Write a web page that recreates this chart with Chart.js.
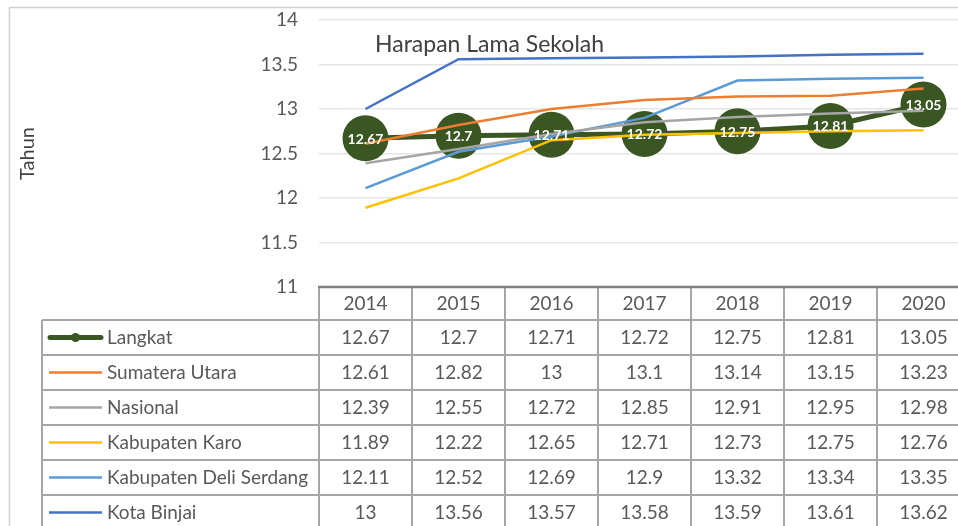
<!DOCTYPE html>
<html>
<head>
<meta charset="utf-8">
<script src="https://cdn.jsdelivr.net/npm/chart.js@4/dist/chart.umd.min.js"></script>
<style>
  html, body { margin: 0; padding: 0; background: #ffffff; overflow: hidden; }
  #wrap { width: 985px; height: 526px; }
</style>
</head>
<body>
<div id="wrap"><canvas id="c" width="985" height="526"></canvas></div>
<script>
// ---- data ----
const years = ['2014', '2015', '2016', '2017', '2018', '2019', '2020'];
const langkat = [12.67, 12.7, 12.71, 12.72, 12.75, 12.81, 13.05];
const sumateraUtara = [12.61, 12.82, 13, 13.1, 13.14, 13.15, 13.23];
const nasional = [12.39, 12.55, 12.72, 12.85, 12.91, 12.95, 12.98];
const kabupatenKaro = [11.89, 12.22, 12.65, 12.71, 12.73, 12.75, 12.76];
const kabupatenDeliSerdang = [12.11, 12.52, 12.69, 12.9, 13.32, 13.34, 13.35];
const kotaBinjai = [13, 13.56, 13.57, 13.58, 13.59, 13.61, 13.62];
const seriesNames = ['Langkat', 'Sumatera Utara', 'Nasional', 'Kabupaten Karo', 'Kabupaten Deli Serdang', 'Kota Binjai'];
const chartTitle = 'Harapan Lama Sekolah';
const yAxisTitle = 'Tahun';
const yMin = 11, yMax = 14, yStep = 0.5;

// ---- styles ----
const colors = ['#3a5622', '#ED7D31', '#A5A5A5', '#FFC000', '#5B9BD5', '#4472C4'];
const FONT = 'Lato, "Open Sans", "Liberation Sans", sans-serif';
const TEXT = '#595959';
const LINE = '#a6a6a6';

const seriesData = [langkat, sumateraUtara, nasional, kabupatenKaro, kabupatenDeliSerdang, kotaBinjai];

const datasets = seriesData.map((d, i) => {
  const main = i === 0;
  return {
    label: seriesNames[i],
    data: d,
    borderColor: colors[i],
    backgroundColor: colors[i],
    borderWidth: main ? 5 : 2.5,
    pointRadius: main ? 23 : 0,
    pointHoverRadius: main ? 23 : 0,
    pointBorderWidth: 0,
    pointBackgroundColor: colors[i],
    tension: 0,
    order: main ? 1 : 0,
    clip: false
  };
});

const decor = {
  id: 'decor',
  beforeDraw(chart) {
    const ctx = chart.ctx;
    ctx.save();
    ctx.strokeStyle = '#d0d0d0';
    ctx.lineWidth = 1.5;
    ctx.strokeRect(9.5, 7.5, chart.width + 50, chart.height + 50);
    ctx.restore();
  },
  afterDatasetsDraw(chart) {
    const ctx = chart.ctx;
    const meta = chart.getDatasetMeta(0);
    ctx.save();
    ctx.fillStyle = '#ffffff';
    ctx.font = 'bold 14px ' + FONT;
    ctx.textAlign = 'center';
    ctx.textBaseline = 'middle';
    meta.data.forEach((pt, i) => {
      ctx.fillText(String(langkat[i]), pt.x, pt.y + 1);
    });
    ctx.restore();
  },
  afterDraw(chart) {
    const ctx = chart.ctx;
    const area = chart.chartArea;
    const xs = chart.scales.x;
    const n = years.length;
    const colW = (area.right - area.left) / n;
    const headerTop = area.bottom;
    const rowsTop = headerTop + 33;
    const rowH = 35;
    const legendLeft = 42;
    const bottom = chart.height + 5;
    ctx.save();

    // title
    ctx.fillStyle = '#404040';
    ctx.font = '23px ' + FONT;
    ctx.textAlign = 'left';
    ctx.textBaseline = 'middle';
    ctx.fillText(chartTitle, 375, 45);

    // y axis title
    ctx.save();
    ctx.translate(28, (area.top + area.bottom) / 2);
    ctx.rotate(-Math.PI / 2);
    ctx.textAlign = 'center';
    ctx.textBaseline = 'middle';
    ctx.fillStyle = '#404040';
    ctx.font = '20px ' + FONT;
    ctx.fillText(yAxisTitle, 0, 0);
    ctx.restore();

    // table grid
    ctx.strokeStyle = LINE;
    ctx.lineWidth = 2;
    ctx.beginPath();
    for (let k = 0; k <= n; k++) {
      const bx = area.left + k * colW;
      ctx.moveTo(bx, headerTop);
      ctx.lineTo(bx, bottom);
    }
    for (let r = 0; r <= seriesNames.length; r++) {
      const y = rowsTop + r * rowH;
      ctx.moveTo(legendLeft, y);
      ctx.lineTo(area.right + 10, y);
    }
    ctx.moveTo(legendLeft, rowsTop);
    ctx.lineTo(legendLeft, bottom);
    ctx.stroke();

    // axis line
    ctx.strokeStyle = '#7f7f7f';
    ctx.lineWidth = 2.5;
    ctx.beginPath();
    ctx.moveTo(area.left - 1, headerTop);
    ctx.lineTo(area.right + 10, headerTop);
    ctx.stroke();

    // header years
    ctx.fillStyle = TEXT;
    ctx.font = '19px ' + FONT;
    ctx.textAlign = 'center';
    ctx.textBaseline = 'middle';
    years.forEach((yr, i) => {
      ctx.fillText(yr, xs.getPixelForValue(i), headerTop + 17);
    });

    // rows
    seriesNames.forEach((name, r) => {
      const cy = rowsTop + r * rowH + rowH / 2;
      ctx.strokeStyle = colors[r];
      ctx.lineCap = r === 0 ? 'round' : 'butt';
      ctx.lineWidth = r === 0 ? 5 : 2.5;
      ctx.beginPath();
      ctx.moveTo(r === 0 ? 50 : 49, cy);
      ctx.lineTo(r === 0 ? 101 : 102, cy);
      ctx.stroke();
      if (r === 0) {
        ctx.fillStyle = colors[0];
        ctx.beginPath();
        ctx.arc(75.5, cy, 4.5, 0, Math.PI * 2);
        ctx.fill();
      }
      ctx.fillStyle = TEXT;
      ctx.font = '19px ' + FONT;
      ctx.textAlign = 'left';
      ctx.fillText(name, 107, cy);
      ctx.textAlign = 'center';
      seriesData[r].forEach((v, i) => {
        ctx.fillText(String(v), xs.getPixelForValue(i), cy);
      });
    });
    ctx.restore();
  }
};

new Chart(document.getElementById('c'), {
  type: 'line',
  data: { labels: years, datasets },
  options: {
    responsive: false,
    animation: false,
    events: [],
    layout: { autoPadding: false, padding: { left: 0, top: 20, right: 15, bottom: 239 } },
    plugins: {
      legend: { display: false },
      tooltip: { enabled: false },
      title: { display: false }
    },
    scales: {
      x: {
        type: 'category',
        offset: true,
        display: false
      },
      y: {
        min: yMin,
        max: yMax,
        ticks: {
          stepSize: yStep,
          color: TEXT,
          font: { family: FONT, size: 19 },
          padding: 21,
          callback: (v) => String(Math.round(v * 10) / 10)
        },
        grid: { color: '#e6e6e6', lineWidth: 1.5, drawTicks: false },
        border: { display: false },
        afterFit(scale) {
          scale.width = 319;
          scale.paddingTop = 0;
          scale.paddingBottom = 0;
        }
      }
    }
  },
  plugins: [decor]
});
</script>
</body>
</html>
